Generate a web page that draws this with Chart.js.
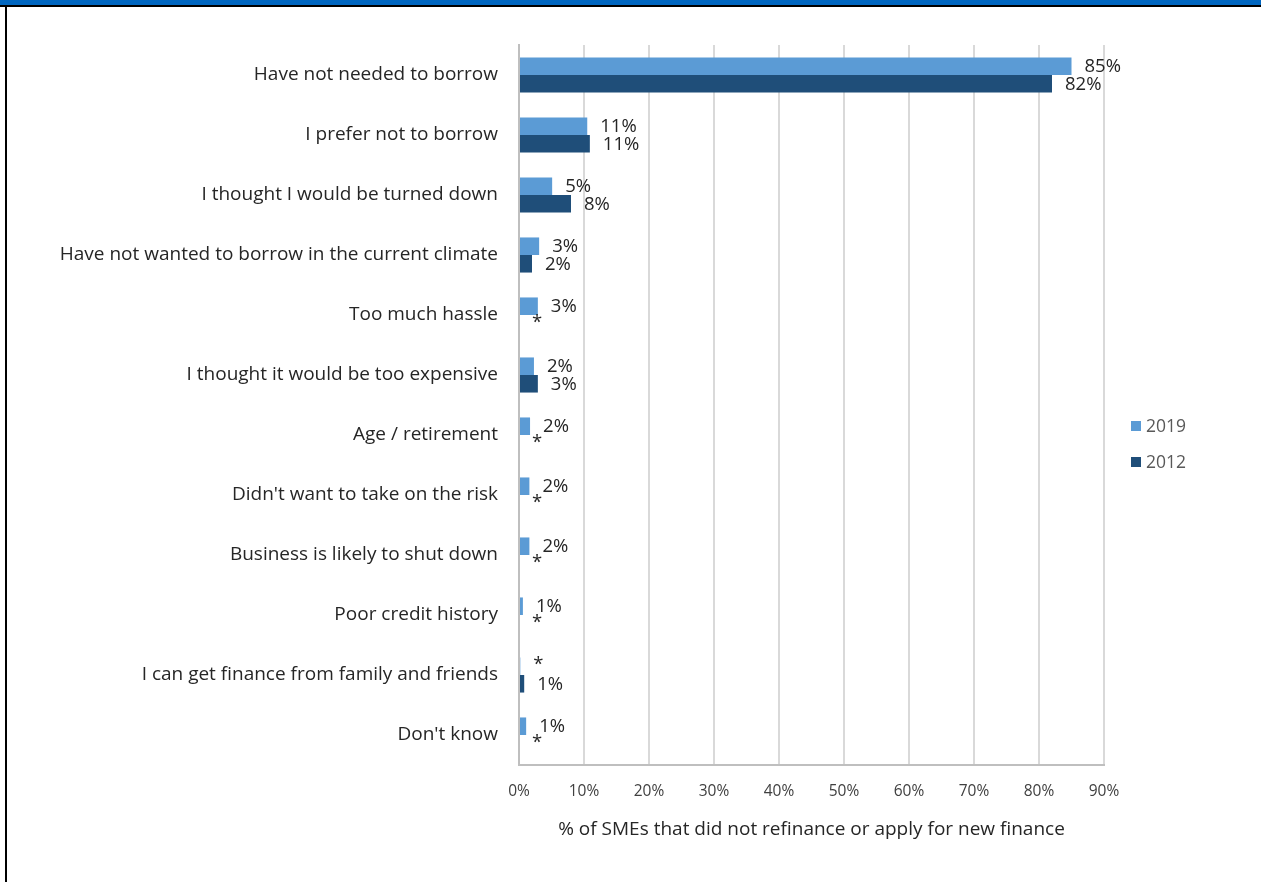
<!DOCTYPE html>
<html>
<head>
<meta charset="utf-8">
<script src="https://cdn.jsdelivr.net/npm/chart.js@4"></script>
<style>
  html, body { margin: 0; padding: 0; background: #ffffff; }
  body { width: 1261px; height: 882px; position: relative; overflow: hidden; }
  #band { position: absolute; left: 0; top: 0; width: 1261px; height: 5px; background: #0066C0; }
  #topline { position: absolute; left: 0; top: 5px; width: 1261px; height: 2px; background: #000; }
  #leftline { position: absolute; left: 5px; top: 5px; width: 2px; height: 877px; background: #000; }
  #c { position: absolute; left: 0; top: 0; }
</style>
</head>
<body>
<div id="band"></div>
<div id="topline"></div>
<div id="leftline"></div>
<canvas id="c" width="1261" height="882"></canvas>
<script>
const categories = [
  "Have not needed to borrow",
  "I prefer not to borrow",
  "I thought I would be turned down",
  "Have not wanted to borrow in the current climate",
  "Too much hassle",
  "I thought it would be too expensive",
  "Age / retirement",
  "Didn't want to take on the risk",
  "Business is likely to shut down",
  "Poor credit history",
  "I can get finance from family and friends",
  "Don't know"
];
const seriesNames = ["2019", "2012"];
const values2019 = [85, 10.5, 5.1, 3.1, 2.9, 2.3, 1.7, 1.6, 1.6, 0.6, 0.2, 1.1];
const values2012 = [82, 10.9, 8, 2, 0, 2.9, 0, 0, 0, 0, 0.8, 0];
const labels2019 = ["85%", "11%", "5%", "3%", "3%", "2%", "2%", "2%", "2%", "1%", "*", "1%"];
const labels2012 = ["82%", "11%", "8%", "2%", "*", "3%", "*", "*", "*", "*", "1%", "*"];
const xTicks = [0, 10, 20, 30, 40, 50, 60, 70, 80, 90];
const xTitle = "% of SMEs that did not refinance or apply for new finance";
const colors = ["#5B9BD5", "#1F4E79"];

const FONT = "'Open Sans', 'Noto Sans', sans-serif";

const dataLabels = {
  id: 'dataLabels',
  afterDatasetsDraw(chart) {
    const ctx = chart.ctx;
    const sets = [labels2019, labels2012];
    ctx.save();
    ctx.font = "18.5px " + FONT;
    ctx.fillStyle = "#262626";
    ctx.textAlign = "left";
    ctx.textBaseline = "middle";
    chart.data.datasets.forEach((ds, di) => {
      const meta = chart.getDatasetMeta(di);
      meta.data.forEach((bar, i) => {
        const txt = sets[di][i];
        const dy = txt === "*" ? -1 : 1;
        ctx.fillText(txt, bar.x + 13, bar.y + dy);
      });
    });
    ctx.restore();
  }
};

const customLegend = {
  id: 'customLegend',
  afterDraw(chart) {
    const ctx = chart.ctx;
    ctx.save();
    ctx.font = "17.5px " + FONT;
    ctx.textAlign = "left";
    ctx.textBaseline = "middle";
    seriesNames.forEach((name, i) => {
      const y = 426 + i * 36;
      ctx.fillStyle = colors[i];
      ctx.fillRect(1131, y - 5, 10, 10);
      ctx.fillStyle = "#595959";
      ctx.fillText(name, 1146, y + 1);
    });
    ctx.restore();
  }
};

new Chart(document.getElementById('c'), {
  type: 'bar',
  data: {
    labels: categories,
    datasets: [
      { label: seriesNames[0], data: values2019, backgroundColor: colors[0], categoryPercentage: 0.585, barPercentage: 1.0 },
      { label: seriesNames[1], data: values2012, backgroundColor: colors[1], categoryPercentage: 0.585, barPercentage: 1.0 }
    ]
  },
  options: {
    indexAxis: 'y',
    responsive: false,
    animation: false,
    events: [],
    layout: { padding: { top: 45, right: 157, bottom: 0, left: 0 } },
    plugins: { legend: { display: false }, tooltip: { enabled: false } },
    scales: {
      x: {
        min: 0, max: 90,
        afterFit: (s) => { s.height = 117; },
        afterBuildTicks: (s) => { s.ticks = xTicks.map(v => ({ value: v })); },
        ticks: { padding: 17, color: "#404040", font: { family: FONT, size: 15.5 }, callback: (v) => v + "%" },
        grid: { color: "#D9D9D9", lineWidth: 2, drawTicks: false },
        border: { display: true, color: "#BFBFBF", width: 2 },
        title: { display: true, text: xTitle, color: "#262626", font: { family: FONT, size: 19 }, padding: { top: 0, bottom: 41 } }
      },
      y: {
        afterFit: (s) => { s.width = 519; },
        ticks: { padding: 21, color: "#262626", font: { family: FONT, size: 19 } },
        grid: { display: false, drawTicks: false },
        border: { display: true, color: "#BFBFBF", width: 2 }
      }
    }
  },
  plugins: [dataLabels, customLegend]
});
</script>
</body>
</html>
